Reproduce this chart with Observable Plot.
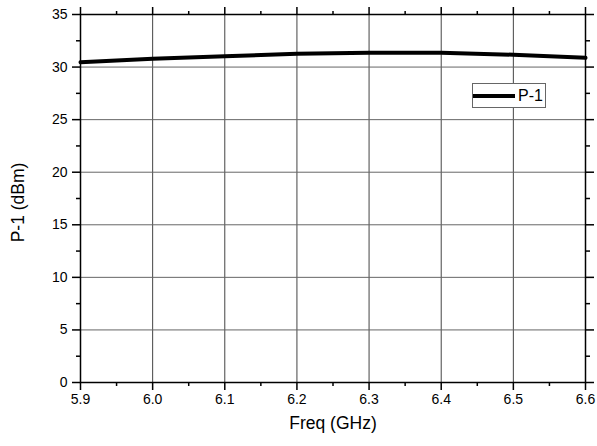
<!DOCTYPE html>
<html>
<head>
<meta charset="utf-8">
<script src="https://cdn.jsdelivr.net/npm/d3@7"></script>
<script src="https://cdn.jsdelivr.net/npm/@observablehq/plot@0.6"></script>
<style>
  html, body { margin: 0; padding: 0; background: #fff; }
  #wrap { position: relative; width: 597px; height: 446px; font-family: "Liberation Sans", Arial, sans-serif; }
  #legend { position: absolute; left: 472px; top: 83px; width: 74px; height: 25px; border: 1px solid #666; background: #fff; box-sizing: border-box; }
  #legend .swatch { position: absolute; left: 0; top: 10px; width: 42px; height: 4px; background: #000; }
  #legend .lab { position: absolute; left: 45px; top: 2px; font-size: 16px; line-height: 20px; color: #000; }
</style>
</head>
<body>
<div id="wrap"></div>
<script>
const freq = [5.9, 6.0, 6.1, 6.2, 6.3, 6.4, 6.5, 6.6];
const p1 = [30.46, 30.79, 31.03, 31.27, 31.37, 31.36, 31.17, 30.88];
const seriesName = "P-1";
const xTitle = "Freq (GHz)";
const yTitle = "P-1 (dBm)";
const xMajor = [5.9, 6.0, 6.1, 6.2, 6.3, 6.4, 6.5, 6.6];
const xMinor = [5.95, 6.05, 6.15, 6.25, 6.35, 6.45, 6.55];
const yMajor = [0, 5, 10, 15, 20, 25, 30, 35];
const yMinor = [2.5, 7.5, 12.5, 17.5, 22.5, 27.5, 32.5];

const data = freq.map((f, i) => ({f, v: p1[i]}));
const blank = () => "";

const chart = Plot.plot({
  width: 597,
  height: 446,
  marginLeft: 80,
  marginRight: 12,
  marginTop: 14,
  marginBottom: 64,
  x: {domain: [5.9, 6.6], label: null},
  y: {domain: [0, 35], label: null},
  style: {fontFamily: "'Liberation Sans', Arial, sans-serif", fontSize: "14px", color: "#000", background: "#fff"},
  marks: [
    Plot.gridX(xMajor.slice(1, -1), {stroke: "#444", strokeOpacity: 1, strokeWidth: 1}),
    Plot.gridY(yMajor.slice(1, -1), {stroke: "#666", strokeOpacity: 1, strokeWidth: 1}),
    Plot.axisX(xMajor, {tickSize: 8, tickPadding: 4, strokeWidth: 1.5, tickFormat: d => d.toFixed(1), fontSize: 14, label: null}),
    Plot.axisX(xMinor, {tickSize: 4, strokeWidth: 1.5, tickFormat: blank, label: null}),
    Plot.axisX(xMajor, {anchor: "top", tickSize: 8, strokeWidth: 1.5, tickFormat: blank, label: null}),
    Plot.axisX(xMinor, {anchor: "top", tickSize: 4, strokeWidth: 1.5, tickFormat: blank, label: null}),
    Plot.axisY(yMajor, {tickSize: 8, tickPadding: 5, strokeWidth: 1.5, fontSize: 14, label: null}),
    Plot.axisY(yMinor, {tickSize: 4, strokeWidth: 1.5, tickFormat: blank, label: null}),
    Plot.axisY(yMajor, {anchor: "right", tickSize: 8, strokeWidth: 1.5, tickFormat: blank, label: null}),
    Plot.axisY(yMinor, {anchor: "right", tickSize: 4, strokeWidth: 1.5, tickFormat: blank, label: null}),
    Plot.text([xTitle], {text: d => d, frameAnchor: "bottom", lineAnchor: "bottom", dy: 46, fontSize: 17.5, fill: "#000"}),
    Plot.text([yTitle], {text: d => d, frameAnchor: "left", textAnchor: "middle", lineAnchor: "top", rotate: -90, dx: -69, dy: 4, fontSize: 17.5, fill: "#000"}),
    Plot.line(data, {x: "f", y: "v", stroke: "#000", strokeWidth: 4}),
    Plot.frame({stroke: "#000", strokeWidth: 1.5})
  ]
});
const wrap = document.getElementById("wrap");
wrap.appendChild(chart);
const leg = document.createElement("div");
leg.id = "legend";
leg.innerHTML = `<div class="swatch"></div><div class="lab">${seriesName}</div>`;
wrap.appendChild(leg);
</script>
</body>
</html>
